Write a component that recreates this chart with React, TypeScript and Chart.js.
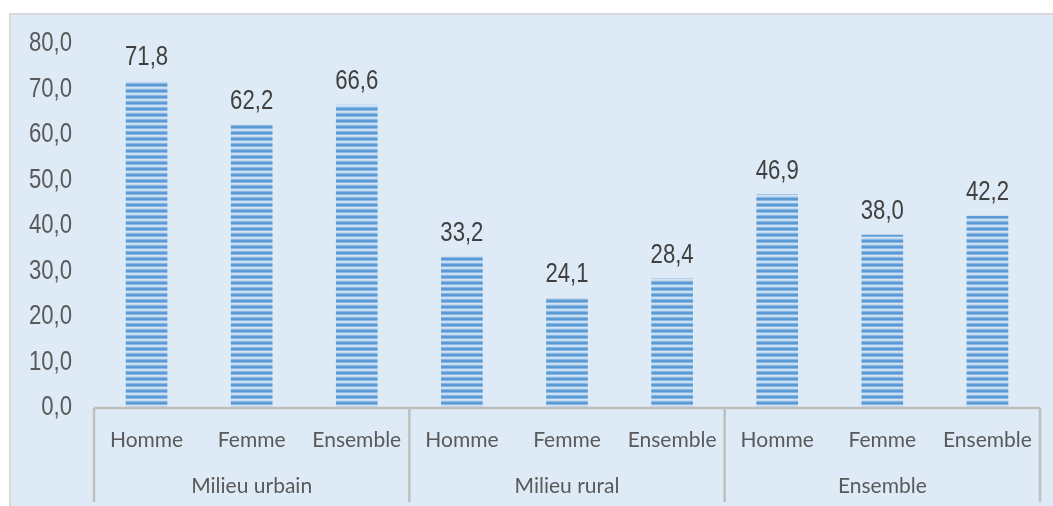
import React, { useEffect, useRef } from "react";
import { Chart, registerables } from "chart.js";

Chart.register(...registerables);

const groupLabels = ["Milieu urbain", "Milieu rural", "Ensemble"];
const subLabels = ["Homme", "Femme", "Ensemble"];
const values = [71.8, 62.2, 66.6, 33.2, 24.1, 28.4, 46.9, 38.0, 42.2];
const yTicks = [0, 10, 20, 30, 40, 50, 60, 70, 80];

const labels = groupLabels.flatMap((g) => subLabels.map((s) => g + "|" + s));

const fmt = (v: number) => v.toFixed(1).replace(".", ",");

const SANS = '"Liberation Sans", Arial, sans-serif';
const CAL = 'Lato, "Noto Sans", sans-serif';
const SQUEEZE = 0.82;

function makePattern(): CanvasPattern | string {
  const c = document.createElement("canvas");
  c.width = 8;
  c.height = 6;
  const ctx = c.getContext("2d");
  if (!ctx) return "#5B9BD5";
  const rows = ["#5B9BD5", "#5B9BD5", "#86B5E2", "#D3E4F5", "#C2D9F0", "#8CB9E4"];
  rows.forEach((col, i) => {
    ctx.fillStyle = col;
    ctx.fillRect(0, i, 8, 1);
  });
  const p = ctx.createPattern(c, "repeat");
  return p || "#5B9BD5";
}

function narrowText(ctx: CanvasRenderingContext2D, text: string, x: number, y: number) {
  ctx.save();
  ctx.translate(x, y);
  ctx.scale(SQUEEZE, 1);
  ctx.fillText(text, 0, 0);
  ctx.restore();
}

export default function App() {
  const ref = useRef<HTMLCanvasElement | null>(null);
  useEffect(() => {
    if (!ref.current) return;
    const decor = {
      id: "decor",
      beforeDraw(chart: any) {
        const ctx = chart.ctx;
        ctx.save();
        ctx.fillStyle = "#FFFFFF";
        ctx.fillRect(0, 0, chart.width, chart.height);
        ctx.fillStyle = "#DEEBF7";
        ctx.fillRect(11, 15, chart.width - 11, chart.height - 15);
        ctx.strokeStyle = "#D9D9D9";
        ctx.lineWidth = 2;
        ctx.beginPath();
        ctx.moveTo(10, chart.height);
        ctx.lineTo(10, 14);
        ctx.lineTo(chart.width, 14);
        ctx.stroke();
        ctx.restore();
      },
      afterDraw(chart: any) {
        const ctx = chart.ctx;
        const xs = chart.scales.x;
        const ys = chart.scales.y;
        const area = chart.chartArea;
        const n = labels.length;
        const step = xs.getPixelForValue(1) - xs.getPixelForValue(0);
        const left = xs.getPixelForValue(0) - step / 2;
        const bottom = area.bottom;
        ctx.save();
        // y tick labels
        ctx.fillStyle = "#595959";
        ctx.font = "27px " + SANS;
        ctx.textAlign = "right";
        ctx.textBaseline = "middle";
        yTicks.forEach((v) => {
          narrowText(ctx, fmt(v), 72, ys.getPixelForValue(v));
        });
        // axis line + separators
        ctx.strokeStyle = "#BFBFBF";
        ctx.lineWidth = 2.5;
        ctx.beginPath();
        ctx.moveTo(left, bottom);
        ctx.lineTo(left + step * n, bottom);
        for (let g = 0; g <= groupLabels.length; g++) {
          const x = left + step * subLabels.length * g;
          ctx.moveTo(x, bottom);
          ctx.lineTo(x, bottom + 94);
        }
        ctx.stroke();
        // category labels
        ctx.fillStyle = "#595959";
        ctx.font = "21px " + CAL;
        ctx.textAlign = "center";
        ctx.textBaseline = "middle";
        labels.forEach((l, i) => {
          ctx.fillText(l.split("|")[1], xs.getPixelForValue(i), bottom + 32);
        });
        groupLabels.forEach((g, gi) => {
          const x = left + step * subLabels.length * (gi + 0.5);
          ctx.fillText(g, x, bottom + 78);
        });
        // data labels
        const meta = chart.getDatasetMeta(0);
        ctx.fillStyle = "#404040";
        ctx.font = "27px " + SANS;
        ctx.textAlign = "center";
        ctx.textBaseline = "alphabetic";
        meta.data.forEach((bar: any, i: number) => {
          narrowText(ctx, fmt(values[i]), bar.x, bar.y - 16);
        });
        ctx.restore();
      },
    };
    const chart = new Chart(ref.current, {
      type: "bar",
      data: {
        labels,
        datasets: [
          {
            data: values,
            backgroundColor: makePattern() as any,
            borderWidth: 0,
            barThickness: 41,
          },
        ],
      },
      options: {
        animation: false,
        responsive: false,
        layout: { padding: { top: 44, bottom: 98, right: 13, left: 0 } },
        plugins: { legend: { display: false }, tooltip: { enabled: false } },
        scales: {
          x: { display: false },
          y: {
            min: 0,
            max: 80,
            afterFit: (s: any) => {
              s.width = 94;
            },
            afterBuildTicks: (s: any) => {
              s.ticks = yTicks.map((v) => ({ value: v }));
            },
            grid: { display: false, drawTicks: false },
            border: { display: false },
            ticks: { display: false },
          },
        },
      },
      plugins: [decor],
    });
    return () => chart.destroy();
  }, []);
  return (
    <div style={{ position: "fixed", left: 0, top: 0, width: 1053, height: 506, background: "#fff" }}>
      <canvas ref={ref} width={1053} height={506} style={{ display: "block" }} />
    </div>
  );
}
